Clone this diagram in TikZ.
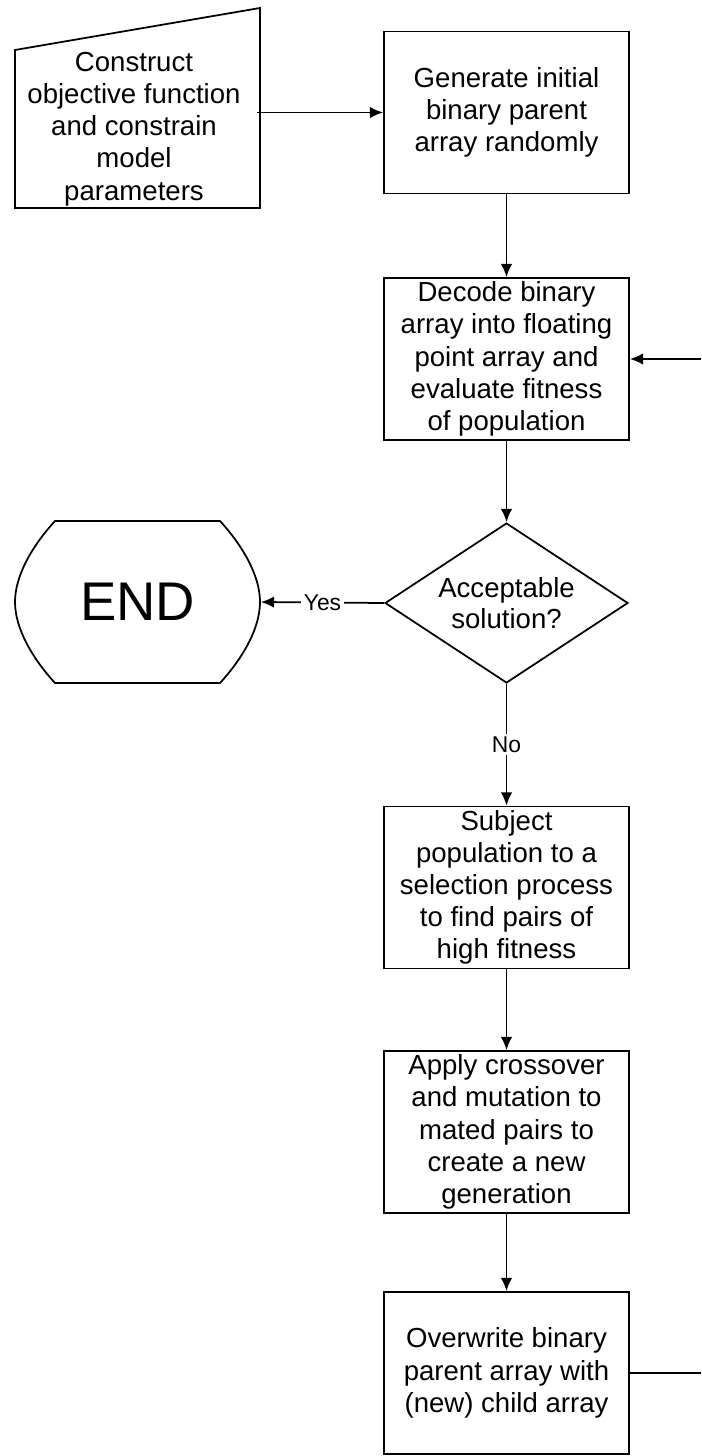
\documentclass[tikz,border=0pt]{standalone}
\usepackage{fontspec}
\setmainfont{Liberation Sans}
\usetikzlibrary{shapes.geometric,arrows.meta}
\begin{document}
\begin{tikzpicture}[x=0.02cm,y=-0.02cm,line width=1pt,
  box/.style={draw,minimum width=4.9cm,minimum height=3.24cm,inner sep=0pt,align=center,font=\fontsize{15.7}{18.3}\selectfont},
  txt/.style={minimum width=4.9cm,inner sep=0pt,align=center,font=\fontsize{15.7}{18.3}\selectfont},
  lbl/.style={fill=white,inner sep=1.5pt,font=\fontsize{13}{15}\selectfont},
  arr/.style={-{Latex[length=7.5pt,width=6.5pt]}}]
\useasboundingbox (0,0) rectangle (701,1456);
\coordinate (rt) at (701,0);
% left column
\draw (15,50)--(260,8)--(260,208)--(15,208)--cycle;
\node[txt] (cons) at (134,129) {Construct\\objective function\\and constrain\\model\\parameters};
\draw (55,521)--(220,521) .. controls (242,545) and (260,575) .. (260,602)
  .. controls (260,629) and (242,659) .. (220,683)--(55,683)
  .. controls (33,659) and (15,629) .. (15,602)
  .. controls (15,575) and (33,545) .. (55,521)--cycle;
\node[txt,minimum width=4.9cm,font=\fontsize{31}{36}\selectfont] (endn) at (137.5,602) {END};
% main column
\node[box] (gen) at (506.5,112.5) {Generate initial\\binary parent\\array randomly};
\node[box] (dec) at (506.5,359) {Decode binary\\array into floating\\point array and\\evaluate fitness\\of population};
\node[draw,diamond,aspect=1.52,minimum width=4.86cm,minimum height=3.2cm,inner sep=0pt,align=center,font=\fontsize{15.7}{17.7}\selectfont] (dia) at (506.5,603) {Acceptable\\solution?};
\node[box] (sel) at (506.5,887.5) {Subject\\population to a\\selection process\\to find pairs of\\high fitness};
\node[box] (cross) at (506.5,1132) {Apply crossover\\and mutation to\\mated pairs to\\create a new\\generation};
\node[box] (over) at (506.5,1373) {Overwrite binary\\parent array with\\(new) child array};
% connectors
\draw[arr](cons.east|-gen.west)--(gen.west);
\draw[arr](gen)--(dec);
\draw[arr](dec)--(dia);
\draw[arr](dia.west)--node[lbl]{Yes}(endn.east);
\draw[arr](dia.south)--node[lbl]{No}(sel.north);
\draw[arr](sel)--(cross);
\draw[arr](cross)--(over);
\draw(over.east)--(over.east-|rt);
\draw[arr](dec.east-|rt)--(dec.east);
\end{tikzpicture}
\end{document}
